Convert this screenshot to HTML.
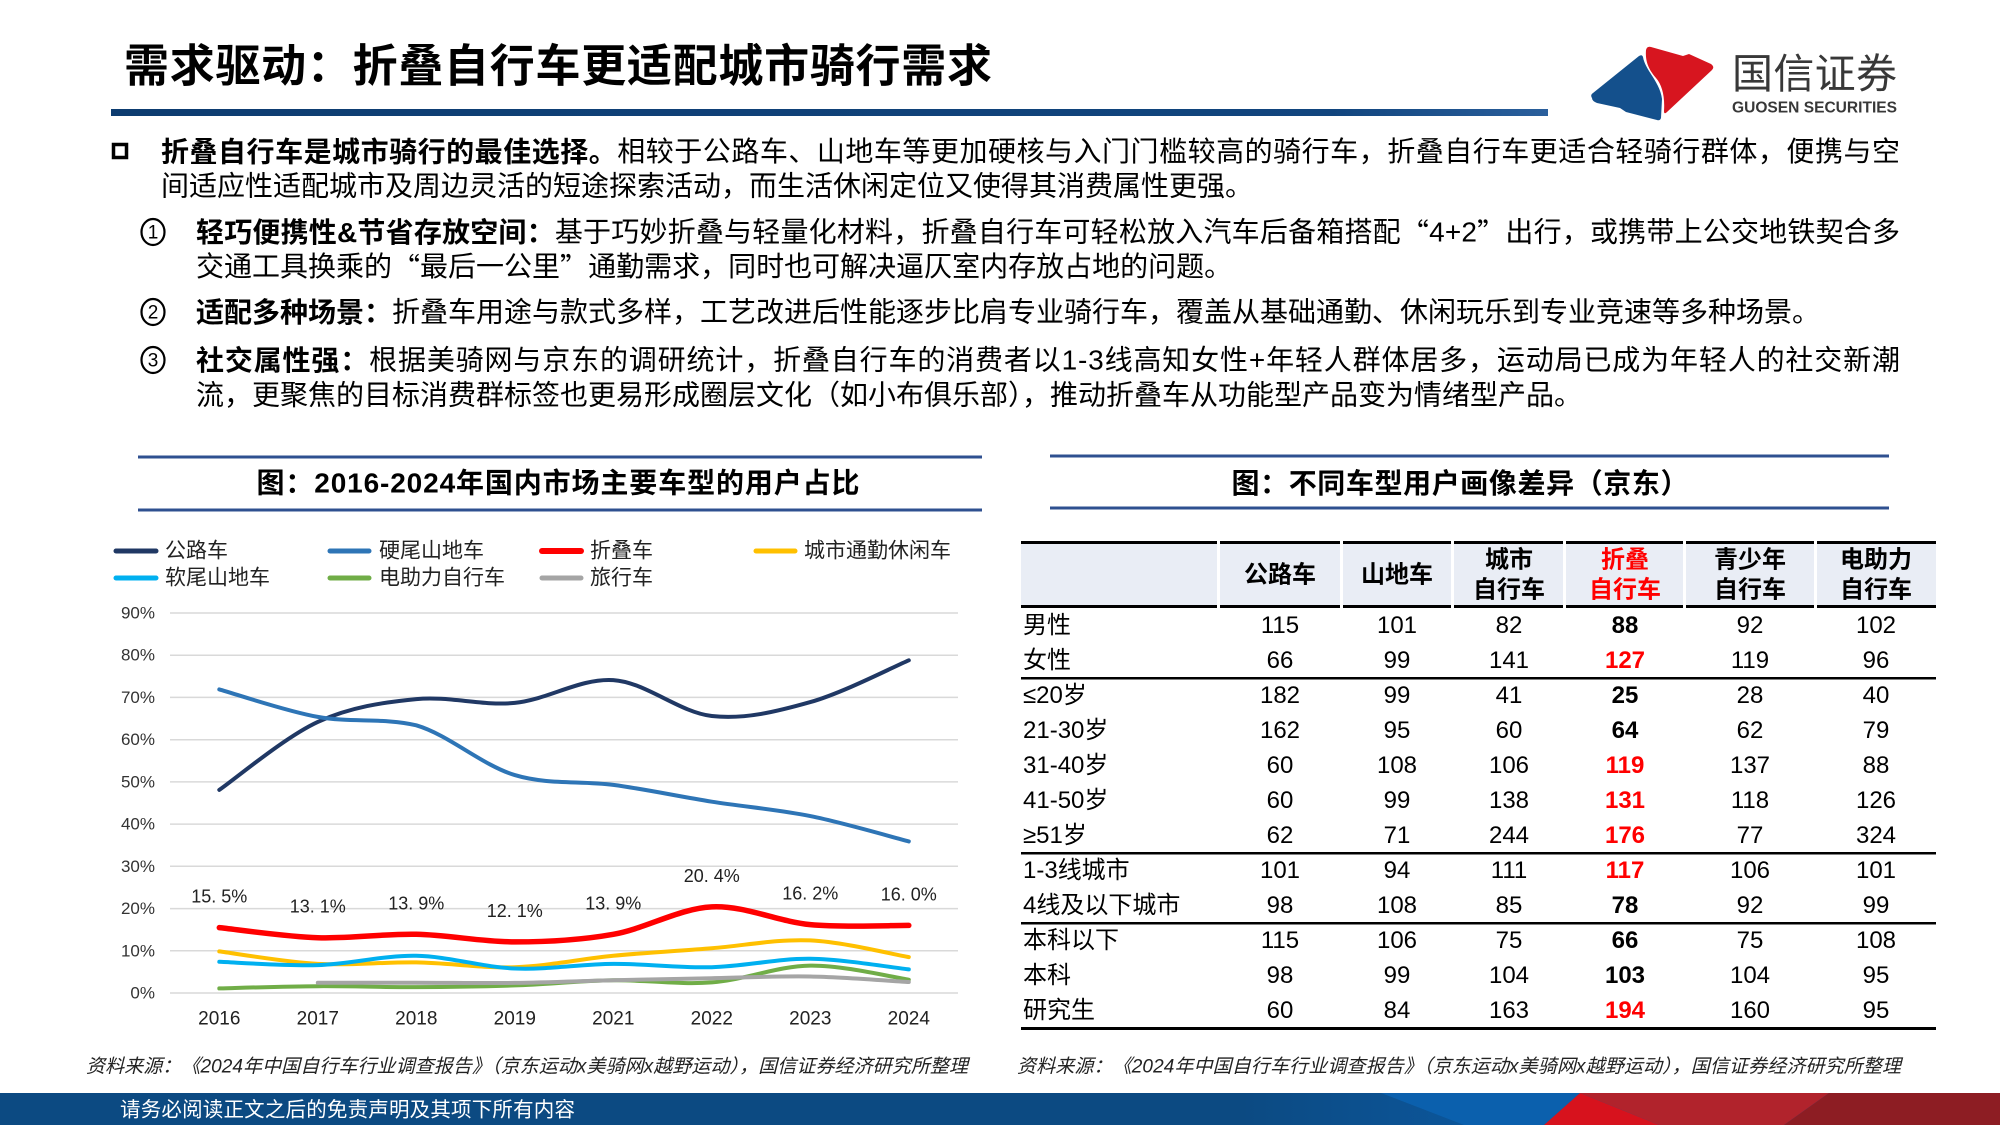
<!DOCTYPE html>
<html>
<head>
<meta charset="utf-8">
<style>
html,body{margin:0;padding:0;background:#fff;}
body{width:2000px;height:1125px;overflow:hidden;}
svg{display:block;}
text{font-family:"Liberation Sans","Noto Sans CJK SC",sans-serif;}
.cjk{font-family:"Noto Sans CJK SC",sans-serif;}
.b{font-weight:bold;}
</style>
</head>
<body>
<svg width="2000" height="1125" viewBox="0 0 2000 1125" xmlns="http://www.w3.org/2000/svg">
<defs>
<linearGradient id="bar" x1="0" y1="0" x2="1" y2="0">
<stop offset="0" stop-color="#0d3c70"/>
<stop offset="0.85" stop-color="#11457e"/>
<stop offset="1" stop-color="#2a5f9c"/>
</linearGradient>
<linearGradient id="foot" x1="0" y1="0" x2="1" y2="0">
<stop offset="0" stop-color="#0c4a82"/>
<stop offset="0.62" stop-color="#0c4a82"/>
<stop offset="0.78" stop-color="#0b5aa3"/>
</linearGradient>
</defs>

<!-- ===== Header ===== -->
<text x="124" y="66" dominant-baseline="central" font-size="45" font-weight="bold" fill="#000" textLength="868" lengthAdjust="spacing">需求驱动：折叠自行车更适配城市骑行需求</text>
<rect x="111" y="109" width="1437" height="7" fill="url(#bar)"/>

<!-- logo -->
<path d="M1592,98 Q1590,95 1593,93 L1639,56 Q1642,54 1643,57 C1645,70 1660,82 1662,99 L1661,118 Q1660,121 1657,120 L1626,112 L1620,108 L1597,103 Q1592,101 1592,98 Z" fill="#14508c"/>
<path d="M1646,50 Q1647,46 1651,47 L1683,56 L1689,54 L1711,64 Q1715,67 1712,70 L1667,112 Q1664,115 1664,111 C1665,96 1662,85 1656,78 C1649,70 1645,62 1646,50 Z" fill="#d7151f"/>
<text x="1732" y="70" dominant-baseline="central" font-size="41" fill="#383838" class="cjk" textLength="165" lengthAdjust="spacing">国信证券</text>
<text x="1732" y="108" dominant-baseline="central" font-size="15.5" font-weight="bold" fill="#383838" textLength="165" lengthAdjust="spacingAndGlyphs">GUOSEN SECURITIES</text>

<!-- ===== Body text ===== -->
<rect x="113.5" y="144.5" width="13" height="13" fill="none" stroke="#000" stroke-width="3.5"/>
<text x="161" y="151.5" dominant-baseline="central" font-size="28" fill="#000" textLength="1739" lengthAdjust="spacing"><tspan font-weight="bold">折叠自行车是城市骑行的最佳选择。</tspan>相较于公路车、山地车等更加硬核与入门门槛较高的骑行车，折叠自行车更适合轻骑行群体，便携与空</text>
<text x="161" y="186" dominant-baseline="central" font-size="28" fill="#000">间适应性适配城市及周边灵活的短途探索活动，而生活休闲定位又使得其消费属性更强。</text>

<ellipse cx="153" cy="232" rx="11.5" ry="13" fill="none" stroke="#000" stroke-width="2.2"/>
<text x="153" y="233" dominant-baseline="central" text-anchor="middle" font-size="19" fill="#000">1</text>
<text x="196" y="232" dominant-baseline="central" font-size="28" fill="#000" textLength="1704" lengthAdjust="spacing"><tspan font-weight="bold">轻巧便携性&amp;节省存放空间：</tspan>基于巧妙折叠与轻量化材料，折叠自行车可轻松放入汽车后备箱搭配<tspan class="cjk">“</tspan>4+2<tspan class="cjk">”</tspan>出行，或携带上公交地铁契合多</text>
<text x="196" y="266.5" dominant-baseline="central" font-size="28" fill="#000">交通工具换乘的<tspan class="cjk">“</tspan>最后一公里<tspan class="cjk">”</tspan>通勤需求，同时也可解决逼仄室内存放占地的问题。</text>

<ellipse cx="153" cy="312" rx="11.5" ry="13" fill="none" stroke="#000" stroke-width="2.2"/>
<text x="153" y="313" dominant-baseline="central" text-anchor="middle" font-size="19" fill="#000">2</text>
<text x="196" y="312" dominant-baseline="central" font-size="28" fill="#000"><tspan font-weight="bold">适配多种场景：</tspan>折叠车用途与款式多样，工艺改进后性能逐步比肩专业骑行车，覆盖从基础通勤、休闲玩乐到专业竞速等多种场景。</text>

<ellipse cx="153" cy="360" rx="11.5" ry="13" fill="none" stroke="#000" stroke-width="2.2"/>
<text x="153" y="361" dominant-baseline="central" text-anchor="middle" font-size="19" fill="#000">3</text>
<text x="196" y="360" dominant-baseline="central" font-size="28" fill="#000" textLength="1704" lengthAdjust="spacing"><tspan font-weight="bold">社交属性强：</tspan>根据美骑网与京东的调研统计，折叠自行车的消费者以1-3线高知女性+年轻人群体居多，运动局已成为年轻人的社交新潮</text>
<text x="196" y="395" dominant-baseline="central" font-size="28" fill="#000">流，更聚焦的目标消费群标签也更易形成圈层文化（如小布俱乐部），推动折叠车从功能型产品变为情绪型产品。</text>

<!-- ===== Left chart ===== -->
<line x1="138" y1="457" x2="982" y2="457" stroke="#2f5090" stroke-width="3"/>
<line x1="138" y1="510" x2="982" y2="510" stroke="#2f5090" stroke-width="3"/>
<text x="558" y="483" dominant-baseline="central" text-anchor="middle" font-size="28" font-weight="bold" fill="#000" textLength="603" lengthAdjust="spacing">图：2016-2024年国内市场主要车型的用户占比</text>

<!-- legend -->
<g stroke-width="5" stroke-linecap="round">
<line x1="116" y1="551" x2="156" y2="551" stroke="#203864"/>
<line x1="330" y1="551" x2="369" y2="551" stroke="#2e75b6"/>
<line x1="542" y1="551" x2="581" y2="551" stroke="#ff0000" stroke-width="6"/>
<line x1="756" y1="551" x2="795" y2="551" stroke="#ffc000"/>
<line x1="116" y1="578" x2="156" y2="578" stroke="#00b0f0"/>
<line x1="330" y1="578" x2="369" y2="578" stroke="#70ad47"/>
<line x1="542" y1="578" x2="581" y2="578" stroke="#a5a5a5"/>
</g>
<g font-size="21" fill="#222">
<text x="165" y="551" dominant-baseline="central">公路车</text>
<text x="379" y="551" dominant-baseline="central">硬尾山地车</text>
<text x="590" y="551" dominant-baseline="central">折叠车</text>
<text x="804" y="551" dominant-baseline="central">城市通勤休闲车</text>
<text x="165" y="578" dominant-baseline="central">软尾山地车</text>
<text x="379" y="578" dominant-baseline="central">电助力自行车</text>
<text x="590" y="578" dominant-baseline="central">旅行车</text>
</g>

<!-- gridlines -->
<g stroke="#d9d9d9" stroke-width="1.5">
<line x1="170" y1="613" x2="958" y2="613"/>
<line x1="170" y1="655.2" x2="958" y2="655.2"/>
<line x1="170" y1="697.4" x2="958" y2="697.4"/>
<line x1="170" y1="739.7" x2="958" y2="739.7"/>
<line x1="170" y1="781.9" x2="958" y2="781.9"/>
<line x1="170" y1="824.1" x2="958" y2="824.1"/>
<line x1="170" y1="866.3" x2="958" y2="866.3"/>
<line x1="170" y1="908.6" x2="958" y2="908.6"/>
<line x1="170" y1="950.8" x2="958" y2="950.8"/>
<line x1="170" y1="993" x2="958" y2="993"/>
</g>
<g font-size="17" fill="#333" text-anchor="end">
<text x="155" y="613" dominant-baseline="central">90%</text>
<text x="155" y="655.2" dominant-baseline="central">80%</text>
<text x="155" y="697.4" dominant-baseline="central">70%</text>
<text x="155" y="739.7" dominant-baseline="central">60%</text>
<text x="155" y="781.9" dominant-baseline="central">50%</text>
<text x="155" y="824.1" dominant-baseline="central">40%</text>
<text x="155" y="866.3" dominant-baseline="central">30%</text>
<text x="155" y="908.6" dominant-baseline="central">20%</text>
<text x="155" y="950.8" dominant-baseline="central">10%</text>
<text x="155" y="993" dominant-baseline="central">0%</text>
</g>
<g font-size="19" fill="#222" text-anchor="middle">
<text x="219.3" y="1019" dominant-baseline="central">2016</text>
<text x="317.8" y="1019" dominant-baseline="central">2017</text>
<text x="416.3" y="1019" dominant-baseline="central">2018</text>
<text x="514.8" y="1019" dominant-baseline="central">2019</text>
<text x="613.3" y="1019" dominant-baseline="central">2021</text>
<text x="711.8" y="1019" dominant-baseline="central">2022</text>
<text x="810.3" y="1019" dominant-baseline="central">2023</text>
<text x="908.8" y="1019" dominant-baseline="central">2024</text>
</g>

<!-- series -->
<g fill="none" stroke-linecap="round" stroke-linejoin="round">
<path stroke="#203864" stroke-width="4" d="M219.3,789.9 C235.7,778.6 285.0,737.0 317.8,721.9 C350.6,706.8 383.5,702.3 416.3,699.1 C449.1,695.9 482.0,706.1 514.8,702.9 C547.6,699.7 580.5,677.9 613.3,680.1 C646.1,682.3 679.0,712.3 711.8,716.0 C744.6,719.7 777.5,711.4 810.3,702.1 C843.1,692.8 892.4,667.3 908.8,660.3"/>
<path stroke="#2e75b6" stroke-width="4" d="M219.3,689.4 C235.7,694.0 285.0,710.9 317.8,716.9 C350.6,722.9 383.5,717.6 416.3,725.3 C449.1,735.0 482.0,765.2 514.8,775.1 C547.6,785.0 580.5,780.5 613.3,784.9 C646.1,789.3 679.0,796.5 711.8,801.7 C744.6,806.9 777.5,809.5 810.3,816.1 C843.1,822.7 892.4,837.2 908.8,841.4"/>
<path stroke="#ff0000" stroke-width="5.5" d="M219.3,927.6 C235.7,929.3 285.0,936.6 317.8,937.7 C350.6,938.8 383.5,933.6 416.3,934.3 C449.1,935.0 482.0,941.9 514.8,941.9 C547.6,941.9 580.5,940.1 613.3,934.3 C646.1,928.5 679.0,908.5 711.8,906.9 C744.6,905.3 777.5,921.5 810.3,924.6 C843.1,927.7 892.4,925.3 908.8,925.4"/>
<path stroke="#ffc000" stroke-width="4" d="M219.3,951.4 C235.7,953.5 285.0,962.1 317.8,963.9 C350.6,965.7 383.5,961.9 416.3,962.4 C449.1,962.9 482.0,968.3 514.8,967.2 C547.6,966.1 580.5,959.0 613.3,955.8 C646.1,952.6 679.0,950.8 711.8,948.2 C744.6,945.6 777.5,938.9 810.3,940.4 C843.1,941.9 892.4,954.3 908.8,957.1"/>
<path stroke="#00b0f0" stroke-width="4" d="M219.3,961.8 C235.7,962.4 285.0,966.1 317.8,965.1 C350.6,964.1 383.5,955.2 416.3,955.8 C449.1,956.4 482.0,967.2 514.8,968.5 C547.6,969.9 580.5,964.1 613.3,963.9 C646.1,963.7 679.0,968.1 711.8,967.2 C744.6,966.4 777.5,958.4 810.3,958.8 C843.1,959.2 892.4,967.6 908.8,969.4"/>
<path stroke="#70ad47" stroke-width="4" d="M219.3,988.4 C235.7,988.0 285.0,986.4 317.8,986.2 C350.6,986.0 383.5,987.2 416.3,987.1 C449.1,987.0 482.0,986.5 514.8,985.4 C547.6,984.3 580.5,980.8 613.3,980.3 C646.1,979.8 679.0,984.9 711.8,982.4 C744.6,980.0 777.5,966.0 810.3,965.6 C843.1,965.1 892.4,977.3 908.8,979.7"/>
<path stroke="#a5a5a5" stroke-width="4" d="M317.8,982.7 C334.2,982.7 383.5,982.7 416.3,982.7 C449.1,982.7 482.0,983.3 514.8,982.9 C547.6,982.5 580.5,981.1 613.3,980.3 C646.1,979.5 679.0,978.8 711.8,978.2 C744.6,977.6 777.5,975.9 810.3,976.5 C843.1,977.1 892.4,981.1 908.8,982.0"/>
</g>

<!-- data labels -->
<g font-size="18" fill="#222" text-anchor="middle">
<text x="219.3" y="896.6" dominant-baseline="central">15. 5%</text>
<text x="317.8" y="906.7" dominant-baseline="central">13. 1%</text>
<text x="416.3" y="903.3" dominant-baseline="central">13. 9%</text>
<text x="514.8" y="910.9" dominant-baseline="central">12. 1%</text>
<text x="613.3" y="903.3" dominant-baseline="central">13. 9%</text>
<text x="711.8" y="875.9" dominant-baseline="central">20. 4%</text>
<text x="810.3" y="893.6" dominant-baseline="central">16. 2%</text>
<text x="908.8" y="894.4" dominant-baseline="central">16. 0%</text>
</g>

<!-- ===== Right table ===== -->
<line x1="1050" y1="456" x2="1889" y2="456" stroke="#2f5090" stroke-width="3"/>
<line x1="1050" y1="508" x2="1889" y2="508" stroke="#2f5090" stroke-width="3"/>
<text x="1460" y="482" dominant-baseline="central" text-anchor="middle" font-size="28" font-weight="bold" fill="#000" class="cjk" textLength="457" lengthAdjust="spacing">图：不同车型用户画像差异（京东）</text>

<!-- header cells -->
<g fill="#e9edf5">
<rect x="1021" y="544" width="196" height="61"/>
<rect x="1220" y="544" width="120" height="61"/>
<rect x="1343" y="544" width="108" height="61"/>
<rect x="1454" y="544" width="109" height="61"/>
<rect x="1566" y="544" width="117" height="61"/>
<rect x="1686" y="544" width="128" height="61"/>
<rect x="1817" y="544" width="119" height="61"/>
</g>
<g fill="#000">
<rect x="1021" y="541" width="915" height="3"/>
<rect x="1021" y="605" width="196" height="3"/>
<rect x="1220" y="605" width="120" height="3"/>
<rect x="1343" y="605" width="108" height="3"/>
<rect x="1454" y="605" width="109" height="3"/>
<rect x="1566" y="605" width="117" height="3"/>
<rect x="1686" y="605" width="128" height="3"/>
<rect x="1817" y="605" width="119" height="3"/>
<rect x="1021" y="677" width="915" height="2.5"/>
<rect x="1021" y="852" width="915" height="2.5"/>
<rect x="1021" y="922" width="915" height="2.5"/>
<rect x="1021" y="1027" width="915" height="3"/>
</g>
<rect x="1217" y="541" width="3" height="3" fill="#fff"/>
<rect x="1340" y="541" width="3" height="3" fill="#fff"/>
<rect x="1451" y="541" width="3" height="3" fill="#fff"/>
<rect x="1563" y="541" width="3" height="3" fill="#fff"/>
<rect x="1683" y="541" width="3" height="3" fill="#fff"/>
<rect x="1814" y="541" width="3" height="3" fill="#fff"/>

<g font-size="24" font-weight="bold" fill="#000" text-anchor="middle">
<text x="1280" y="575" dominant-baseline="central">公路车</text>
<text x="1397" y="575" dominant-baseline="central">山地车</text>
<text x="1509" y="560" dominant-baseline="central">城市</text>
<text x="1509" y="590" dominant-baseline="central">自行车</text>
<text x="1625" y="560" dominant-baseline="central" fill="#ff0000">折叠</text>
<text x="1625" y="590" dominant-baseline="central" fill="#ff0000">自行车</text>
<text x="1750" y="560" dominant-baseline="central">青少年</text>
<text x="1750" y="590" dominant-baseline="central">自行车</text>
<text x="1876" y="560" dominant-baseline="central">电助力</text>
<text x="1876" y="590" dominant-baseline="central">自行车</text>
</g>

<!-- row labels -->
<g font-size="24" fill="#000">
<text x="1023" y="625.5" dominant-baseline="central">男性</text>
<text x="1023" y="660.5" dominant-baseline="central">女性</text>
<text x="1023" y="695.5" dominant-baseline="central">≤20岁</text>
<text x="1023" y="730.5" dominant-baseline="central">21-30岁</text>
<text x="1023" y="765.5" dominant-baseline="central">31-40岁</text>
<text x="1023" y="800.5" dominant-baseline="central">41-50岁</text>
<text x="1023" y="835.5" dominant-baseline="central">≥51岁</text>
<text x="1023" y="870.5" dominant-baseline="central">1-3线城市</text>
<text x="1023" y="905.5" dominant-baseline="central">4线及以下城市</text>
<text x="1023" y="940.5" dominant-baseline="central">本科以下</text>
<text x="1023" y="975.5" dominant-baseline="central">本科</text>
<text x="1023" y="1010.5" dominant-baseline="central">研究生</text>
</g>

<!-- values -->
<g font-size="24" fill="#000" text-anchor="middle">
<text x="1280" y="625.5" dominant-baseline="central">115</text><text x="1397" y="625.5" dominant-baseline="central">101</text><text x="1509" y="625.5" dominant-baseline="central">82</text><text x="1625" y="625.5" dominant-baseline="central" font-weight="bold">88</text><text x="1750" y="625.5" dominant-baseline="central">92</text><text x="1876" y="625.5" dominant-baseline="central">102</text>
<text x="1280" y="660.5" dominant-baseline="central">66</text><text x="1397" y="660.5" dominant-baseline="central">99</text><text x="1509" y="660.5" dominant-baseline="central">141</text><text x="1625" y="660.5" dominant-baseline="central" font-weight="bold" fill="#ff0000">127</text><text x="1750" y="660.5" dominant-baseline="central">119</text><text x="1876" y="660.5" dominant-baseline="central">96</text>
<text x="1280" y="695.5" dominant-baseline="central">182</text><text x="1397" y="695.5" dominant-baseline="central">99</text><text x="1509" y="695.5" dominant-baseline="central">41</text><text x="1625" y="695.5" dominant-baseline="central" font-weight="bold">25</text><text x="1750" y="695.5" dominant-baseline="central">28</text><text x="1876" y="695.5" dominant-baseline="central">40</text>
<text x="1280" y="730.5" dominant-baseline="central">162</text><text x="1397" y="730.5" dominant-baseline="central">95</text><text x="1509" y="730.5" dominant-baseline="central">60</text><text x="1625" y="730.5" dominant-baseline="central" font-weight="bold">64</text><text x="1750" y="730.5" dominant-baseline="central">62</text><text x="1876" y="730.5" dominant-baseline="central">79</text>
<text x="1280" y="765.5" dominant-baseline="central">60</text><text x="1397" y="765.5" dominant-baseline="central">108</text><text x="1509" y="765.5" dominant-baseline="central">106</text><text x="1625" y="765.5" dominant-baseline="central" font-weight="bold" fill="#ff0000">119</text><text x="1750" y="765.5" dominant-baseline="central">137</text><text x="1876" y="765.5" dominant-baseline="central">88</text>
<text x="1280" y="800.5" dominant-baseline="central">60</text><text x="1397" y="800.5" dominant-baseline="central">99</text><text x="1509" y="800.5" dominant-baseline="central">138</text><text x="1625" y="800.5" dominant-baseline="central" font-weight="bold" fill="#ff0000">131</text><text x="1750" y="800.5" dominant-baseline="central">118</text><text x="1876" y="800.5" dominant-baseline="central">126</text>
<text x="1280" y="835.5" dominant-baseline="central">62</text><text x="1397" y="835.5" dominant-baseline="central">71</text><text x="1509" y="835.5" dominant-baseline="central">244</text><text x="1625" y="835.5" dominant-baseline="central" font-weight="bold" fill="#ff0000">176</text><text x="1750" y="835.5" dominant-baseline="central">77</text><text x="1876" y="835.5" dominant-baseline="central">324</text>
<text x="1280" y="870.5" dominant-baseline="central">101</text><text x="1397" y="870.5" dominant-baseline="central">94</text><text x="1509" y="870.5" dominant-baseline="central">111</text><text x="1625" y="870.5" dominant-baseline="central" font-weight="bold" fill="#ff0000">117</text><text x="1750" y="870.5" dominant-baseline="central">106</text><text x="1876" y="870.5" dominant-baseline="central">101</text>
<text x="1280" y="905.5" dominant-baseline="central">98</text><text x="1397" y="905.5" dominant-baseline="central">108</text><text x="1509" y="905.5" dominant-baseline="central">85</text><text x="1625" y="905.5" dominant-baseline="central" font-weight="bold">78</text><text x="1750" y="905.5" dominant-baseline="central">92</text><text x="1876" y="905.5" dominant-baseline="central">99</text>
<text x="1280" y="940.5" dominant-baseline="central">115</text><text x="1397" y="940.5" dominant-baseline="central">106</text><text x="1509" y="940.5" dominant-baseline="central">75</text><text x="1625" y="940.5" dominant-baseline="central" font-weight="bold">66</text><text x="1750" y="940.5" dominant-baseline="central">75</text><text x="1876" y="940.5" dominant-baseline="central">108</text>
<text x="1280" y="975.5" dominant-baseline="central">98</text><text x="1397" y="975.5" dominant-baseline="central">99</text><text x="1509" y="975.5" dominant-baseline="central">104</text><text x="1625" y="975.5" dominant-baseline="central" font-weight="bold">103</text><text x="1750" y="975.5" dominant-baseline="central">104</text><text x="1876" y="975.5" dominant-baseline="central">95</text>
<text x="1280" y="1010.5" dominant-baseline="central">60</text><text x="1397" y="1010.5" dominant-baseline="central">84</text><text x="1509" y="1010.5" dominant-baseline="central">163</text><text x="1625" y="1010.5" dominant-baseline="central" font-weight="bold" fill="#ff0000">194</text><text x="1750" y="1010.5" dominant-baseline="central">160</text><text x="1876" y="1010.5" dominant-baseline="central">95</text>
</g>

<!-- ===== Sources ===== -->
<text x="86" y="1067" dominant-baseline="central" font-size="19" font-style="italic" fill="#222" textLength="882" lengthAdjust="spacing">资料来源：《2024年中国自行车行业调查报告》（京东运动x美骑网x越野运动），国信证券经济研究所整理</text>
<text x="1017" y="1067" dominant-baseline="central" font-size="19" font-style="italic" fill="#222" textLength="884" lengthAdjust="spacing">资料来源：《2024年中国自行车行业调查报告》（京东运动x美骑网x越野运动），国信证券经济研究所整理</text>

<!-- ===== Footer ===== -->
<rect x="0" y="1093" width="2000" height="32" fill="url(#foot)"/>
<polygon points="1381,1093 1580,1093 1544,1125 1464,1125" fill="#0b60ad"/>
<polygon points="1580,1093 1659,1125 1544,1125" fill="#d7121d"/>
<polygon points="1580,1093 1829,1093 1784,1125 1659,1125" fill="#b1232c"/>
<polygon points="1829,1093 2000,1093 2000,1125 1784,1125" fill="#8d1d23"/>
<text x="120" y="1110" dominant-baseline="central" font-size="20.5" fill="#fff" textLength="455" lengthAdjust="spacing">请务必阅读正文之后的免责声明及其项下所有内容</text>
</svg>
</body>
</html>
